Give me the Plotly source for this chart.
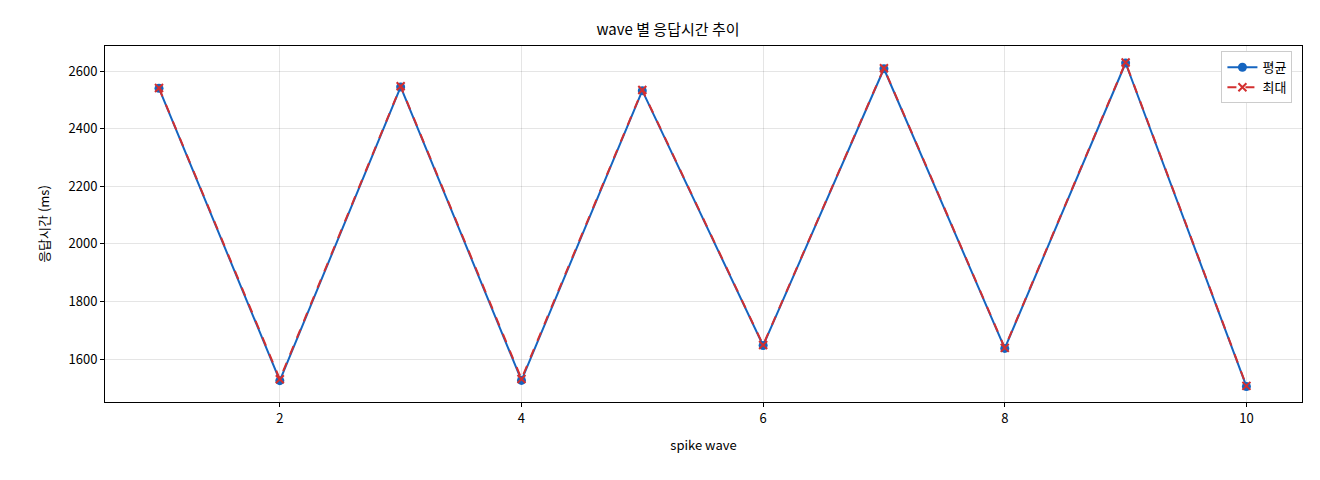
import plotly.graph_objects as go

waves = list(range(1, 11))
avg_ms = [2540, 1525, 2545, 1526, 2532, 1647, 2608, 1637, 2628, 1505]
max_ms = [2541, 1530, 2547, 1531, 2534, 1649, 2610, 1639, 2630, 1507]

FONT = "Noto Sans CJK KR"

fig = go.Figure()
fig.add_trace(go.Scatter(
    x=waves, y=avg_ms, mode="lines+markers", name="평균",
    line=dict(color="#1565c0", width=2),
    marker=dict(symbol="circle", size=9, color="#1565c0"),
))
fig.add_trace(go.Scatter(
    x=waves, y=max_ms, mode="lines+markers", name="최대",
    line=dict(color="#d32f2f", width=2, dash="dash"),
    marker=dict(symbol="x-thin", size=8, color="#d32f2f",
                line=dict(width=2, color="#d32f2f")),
))

axis_common = dict(
    showline=True, linecolor="black", linewidth=1, mirror=True,
    ticks="outside", ticklen=4, tickcolor="black",
    showgrid=True, gridcolor="rgba(0,0,0,0.1)", zeroline=False,
    tickfont=dict(size=13, color="black"),
)

# page body adds an 8px offset, so margins are shifted to compensate
fig.update_layout(
    width=1320, height=480,
    paper_bgcolor="white", plot_bgcolor="white",
    font=dict(family=FONT, color="black"),
    margin=dict(l=97, r=26, t=38, b=86),
    title=dict(text="wave 별 응답시간 추이", x=0.5, xanchor="center",
               y=0.955, yanchor="middle", font=dict(size=15)),
    xaxis=dict(range=[0.553, 10.46], tickvals=[2, 4, 6, 8, 10],
               title=dict(text="spike wave", font=dict(size=13)), **axis_common),
    yaxis=dict(range=[1451, 2687], tickvals=[1600, 1800, 2000, 2200, 2400, 2600],
               title=dict(text="응답시간 (ms)", font=dict(size=13)), **axis_common),
    legend=dict(x=0.992, y=0.985, xanchor="right", yanchor="top",
                bordercolor="#cccccc", borderwidth=1, bgcolor="white",
                font=dict(size=13)),
)

fig.write_html("out.html")
